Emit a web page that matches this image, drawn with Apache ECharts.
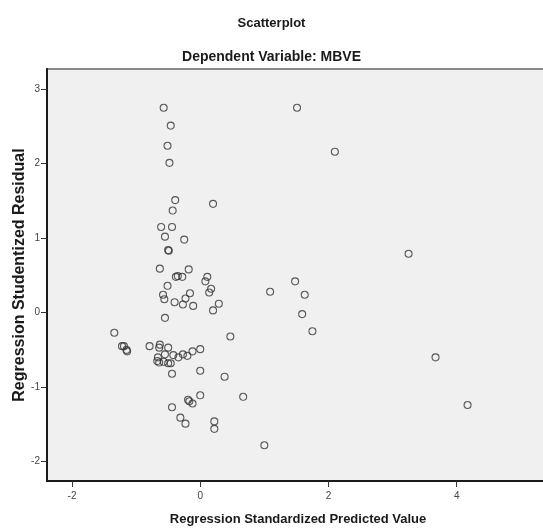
<!DOCTYPE html>
<html>
<head>
<meta charset="utf-8">
<script src="https://cdn.jsdelivr.net/npm/echarts@6/dist/echarts.min.js"></script>
<style>
html,body{margin:0;padding:0;background:#fff;}
#c{width:543px;height:528px;}
</style>
</head>
<body>
<div id="c"></div>
<script>
const chartTitle = "Scatterplot";
const chartSubtitle = "Dependent Variable: MBVE";
const xAxisName = "Regression Standardized Predicted Value";
const yAxisName = "Regression Studentized Residual";
const xTicks = [-2, 0, 2, 4];
const yTicks = [-2, -1, 0, 1, 2, 3];

const predicted = [
  1.51, 2.10, 3.25, 1.48, 1.09, 1.63, 1.59, 1.75, 3.67, 4.17,
  1.00, -0.57, -0.46, -0.51, -0.48, -0.39, 0.20, -0.43, -0.61, -0.44,
  -0.55, -0.25, -0.50, -0.49, -0.63, -0.18, -0.38, -0.35, -0.28, 0.11,
  0.08, -0.51, 0.17, 0.14, -0.58, -0.56, -0.16, -0.23, -0.40, -0.27,
  -0.11, 0.29, 0.20, -0.55, -1.34, 0.47, -1.22, -1.19, -1.15, -1.14,
  -0.79, -0.63, -0.64, -0.50, 0.00, -0.12, -0.55, -0.42, -0.27, -0.20,
  -0.34, -0.66, -0.67, -0.64, -0.50, -0.46, -0.57, -0.44, 0.00, 0.38,
  0.67, 0.00, -0.19, -0.17, -0.12, -0.44, -0.31, -0.23, 0.22, 0.22
];
const residual = [
  2.75, 2.16, 0.79, 0.42, 0.28, 0.24, -0.02, -0.25, -0.60, -1.24,
  -1.78, 2.75, 2.51, 2.24, 2.01, 1.51, 1.46, 1.37, 1.15, 1.15,
  1.02, 0.98, 0.84, 0.83, 0.59, 0.58, 0.48, 0.49, 0.48, 0.48,
  0.42, 0.36, 0.32, 0.27, 0.24, 0.18, 0.26, 0.19, 0.14, 0.11,
  0.09, 0.12, 0.03, -0.07, -0.27, -0.32, -0.45, -0.45, -0.50, -0.52,
  -0.45, -0.43, -0.47, -0.47, -0.49, -0.52, -0.56, -0.57, -0.56, -0.58,
  -0.60, -0.60, -0.65, -0.67, -0.68, -0.68, -0.66, -0.82, -0.78, -0.86,
  -1.13, -1.11, -1.17, -1.19, -1.22, -1.27, -1.41, -1.49, -1.46, -1.56
];

const points = predicted.map((x, i) => [x, residual[i]]);
const FONT = "'Liberation Sans', Arial, sans-serif";

const chart = echarts.init(document.getElementById('c'), null, {renderer: 'canvas'});
chart.setOption({
  animation: false,
  backgroundColor: '#ffffff',
  title: [
    {text: chartTitle, left: 'center', top: 12,
     textStyle: {fontFamily: FONT, fontSize: 13, fontWeight: 'bold', color: '#1a1a1a'}},
    {text: chartSubtitle, left: 'center', top: 45,
     textStyle: {fontFamily: FONT, fontSize: 14, fontWeight: 'bold', color: '#1a1a1a'}}
  ],
  grid: {
    left: 47, top: 69, right: -6, bottom: 47,
    outerBoundsMode: 'none', containLabel: false,
    show: true, backgroundColor: '#f0f0f0', borderColor: '#666', borderWidth: 1.5
  },
  xAxis: {
    type: 'value', min: -2.39, max: 5.44,
    name: xAxisName, nameLocation: 'middle', nameGap: 32, nameMoveOverlap: false,
    nameTextStyle: {fontFamily: FONT, fontSize: 13, fontWeight: 'bold', color: '#1a1a1a'},
    axisLine: {show: true, onZero: false, lineStyle: {color: '#1a1a1a', width: 2}},
    axisTick: {show: true, length: 6, customValues: xTicks, lineStyle: {color: '#333', width: 1}},
    axisLabel: {customValues: xTicks, margin: 10, fontFamily: FONT, fontSize: 10, color: '#444'},
    splitLine: {show: false}
  },
  yAxis: {
    type: 'value', min: -2.26, max: 3.27,
    name: yAxisName, nameLocation: 'middle', nameGap: 19, nameRotate: 90, nameMoveOverlap: false,
    nameTextStyle: {fontFamily: FONT, fontSize: 16, fontWeight: 'bold', color: '#1a1a1a'},
    axisLine: {show: true, onZero: false, lineStyle: {color: '#1a1a1a', width: 2}},
    axisTick: {show: true, length: 6, customValues: yTicks, lineStyle: {color: '#333', width: 1}},
    axisLabel: {customValues: yTicks, margin: 7, fontFamily: FONT, fontSize: 10, color: '#444'},
    splitLine: {show: false}
  },
  series: [{
    type: 'scatter',
    data: points,
    symbol: 'circle',
    symbolSize: 7,
    itemStyle: {color: 'rgba(0,0,0,0)', borderColor: '#333', borderWidth: 1.1}
  }]
});
</script>
</body>
</html>
